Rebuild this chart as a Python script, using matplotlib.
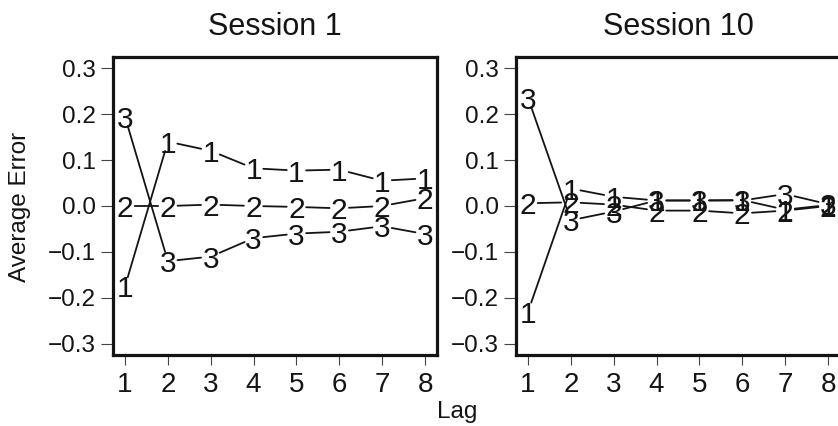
import matplotlib
matplotlib.use("Agg")
import matplotlib.pyplot as plt

plt.rcParams['font.family'] = ['Liberation Sans', 'DejaVu Sans']

lags = [1, 2, 3, 4, 5, 6, 7, 8]
series_labels = ["1", "2", "3"]
titles = ["Session 1", "Session 10"]

# Session 1
s1_1 = [-0.175, 0.14, 0.12, 0.082, 0.077, 0.079, 0.055, 0.06]
s1_2 = [0.0, 0.0, 0.003, 0.0, -0.002, -0.005, 0.0, 0.017]
s1_3 = [0.194, -0.12, -0.11, -0.07, -0.06, -0.056, -0.044, -0.061]

# Session 10
s10_1 = [-0.23, 0.038, 0.02, 0.012, 0.012, 0.013, -0.008, 0.002]
s10_2 = [0.006, 0.008, 0.003, -0.01, -0.01, -0.016, -0.01, 0.0]
s10_3 = [0.235, -0.031, -0.012, 0.012, 0.012, 0.012, 0.026, 0.004]

yticks = [-0.3, -0.2, -0.1, 0.0, 0.1, 0.2, 0.3]
ytick_labels = ["\u22120.3", "\u22120.2", "\u22120.1", "0.0", "0.1", "0.2", "0.3"]

panels = [[s1_1, s1_2, s1_3], [s10_1, s10_2, s10_3]]

W, H = 838, 426
fig = plt.figure(figsize=(W / 100, H / 100), dpi=100)

ax_lefts = [113, 516]
ink = '#141414'
for k, left in enumerate(ax_lefts):
    ax = fig.add_axes([left / W, 1 - 355 / H, 324 / W, 298 / H])
    ax.set_xlim(1 - 0.28, 8 + 0.28)
    ax.set_ylim(-0.324, 0.324)
    for sp in ax.spines.values():
        sp.set_linewidth(2.3)
        sp.set_color(ink)
    for vals, lab in zip(panels[k], series_labels):
        for i in range(len(lags)):
            ax.text(lags[i], vals[i], lab, ha='center', va='center_baseline',
                    fontsize=21.5, color=ink)
        for i in range(len(lags) - 1):
            ax.annotate('', xy=(lags[i + 1], vals[i + 1]), xytext=(lags[i], vals[i]),
                        arrowprops=dict(arrowstyle='-', shrinkA=7, shrinkB=7,
                                        lw=1.3, color=ink))
    ax.set_xticks(lags)
    ax.set_xticklabels([str(v) for v in lags])
    ax.set_yticks(yticks)
    ax.set_yticklabels(ytick_labels)
    ax.tick_params(axis='x', length=7, width=0.8, color='#444', pad=5,
                   labelsize=20, labelcolor=ink)
    ax.tick_params(axis='y', length=9, width=0.8, color='#444', pad=3.5,
                   labelsize=17.5, labelcolor=ink)
    ax.set_title(titles[k], fontsize=22, pad=15.5, color=ink)

fig.text(20 / W, 1 - 207 / H, "Average Error", rotation=90, ha='center',
         va='center', fontsize=17.5, color=ink)
fig.text(457 / W, 1 - 412 / H, "Lag", ha='center', va='center',
         fontsize=17.5, color=ink)

fig.savefig("out.png", dpi=100, facecolor='white')
